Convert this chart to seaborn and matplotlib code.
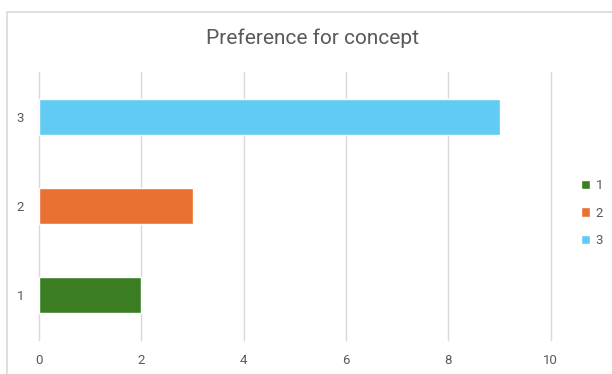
import pandas as pd
import matplotlib.pyplot as plt
import seaborn as sns
from matplotlib.patches import Rectangle

# data
concepts = ['1', '2', '3']
votes = [2, 3, 9]
colors = ['#3B7D23', '#E97132', '#61CBF3']
x_ticks = [0, 2, 4, 6, 8, 10]

df = pd.DataFrame({'concept': concepts, 'votes': votes})

sns.set_style('white')
plt.rcParams['font.family'] = ['Roboto', 'DejaVu Sans']

fig = plt.figure(figsize=(6.12, 3.74), dpi=100)
ax = fig.add_axes([0.064, 0.091, 0.836, 0.716])

sns.barplot(data=df, y='concept', x='votes', hue='concept',
            order=['3', '2', '1'], hue_order=concepts,
            palette=colors, saturation=1, width=0.4, dodge=False,
            legend=True, ax=ax)

ax.set_xlim(0, 10)
ax.set_ylim(2.5, -0.5)
ax.set_xticks(x_ticks)
ax.set_xticklabels([str(t) for t in x_ticks])
ax.grid(axis='x', color='#D9D9D9', linewidth=1.0)
for gl in ax.get_xgridlines():
    gl.set_clip_on(False)
ax.set_axisbelow(True)
for s in ax.spines.values():
    s.set_visible(False)
ax.tick_params(axis='both', length=0, labelsize=9.5, labelcolor='#595959')
ax.tick_params(axis='y', pad=11)
ax.tick_params(axis='x', pad=10)
ax.set_xlabel('')
ax.set_ylabel('')

handles, labels = ax.get_legend_handles_labels()
ax.get_legend().remove()
fig.legend(handles, labels, loc='center left', bbox_to_anchor=(0.93, 0.43),
           frameon=False, fontsize=9.5, labelcolor='#595959',
           handlelength=0.7, handleheight=0.7, handletextpad=0.4,
           labelspacing=1.1)

fig.text(0.51, 0.897, 'Preference for concept', ha='center', va='center',
         fontsize=15, color='#595959')

# chart border
fig.patches.append(Rectangle((0.0114, -0.1), 1.2, 1.068, transform=fig.transFigure,
                             fill=False, edgecolor='#D9D9D9', linewidth=1.2))

fig.savefig('out.png', dpi=100)
